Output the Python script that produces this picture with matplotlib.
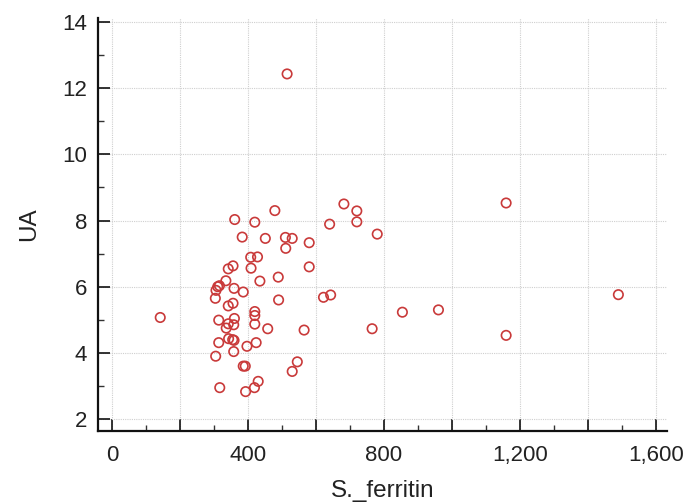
import matplotlib
matplotlib.use('Agg')
import matplotlib.pyplot as plt
from matplotlib.ticker import MultipleLocator, FuncFormatter

plt.rcParams['font.family'] = ['Liberation Sans', 'DejaVu Sans']

# Data
ferritin = [142, 361, 420, 479, 383, 451, 510, 530, 580, 511,
            408, 428, 580, 342, 356, 409, 335, 435, 489, 311,
            316, 306, 359, 386, 304, 342, 356, 490, 622, 643,
            420, 420, 314, 360, 342, 358, 336, 420, 458, 565,
            343, 355, 359, 314, 424, 397, 358, 305, 386, 392,
            545, 530, 317, 430, 419, 393, 515, 682, 720, 720,
            640, 780, 854, 960, 765, 1159, 1489, 1159]
ua = [5.07, 8.03, 7.95, 8.30, 7.50, 7.46, 7.49, 7.46, 7.33, 7.16,
      6.89, 6.90, 6.60, 6.54, 6.63, 6.56, 6.18, 6.17, 6.29, 6.00,
      6.03, 5.89, 5.95, 5.84, 5.65, 5.42, 5.50, 5.60, 5.68, 5.75,
      5.25, 5.13, 4.99, 5.04, 4.88, 4.85, 4.75, 4.87, 4.73, 4.69,
      4.43, 4.40, 4.38, 4.31, 4.31, 4.20, 4.04, 3.90, 3.60, 3.60,
      3.73, 3.44, 2.95, 3.14, 2.95, 2.83, 12.43, 8.50, 8.29, 7.96,
      7.89, 7.59, 5.23, 5.30, 4.73, 8.53, 5.76, 4.53]

x_label = 'S._ferritin'
y_label = 'UA'

fig = plt.figure(figsize=(6.86, 5.03), dpi=100)
ax = fig.add_axes([98/686, 1 - 431/503, (667 - 98)/686, (431 - 18)/503])

ax.scatter(ferritin, ua, s=46, facecolors='none', edgecolors='#c93a3a',
           linewidths=1.2, zorder=3)

ax.set_xlim(-41, 1632)
ax.set_ylim(1.64, 14.12)

ax.xaxis.set_major_locator(MultipleLocator(200))
ax.xaxis.set_minor_locator(MultipleLocator(100))
ax.yaxis.set_major_locator(MultipleLocator(2))
ax.yaxis.set_minor_locator(MultipleLocator(1))

def xfmt(v, pos):
    iv = int(round(v))
    if iv % 400 == 0:
        return f'{iv:,}'
    return ''
ax.xaxis.set_major_formatter(FuncFormatter(xfmt))
ax.yaxis.set_major_formatter(FuncFormatter(lambda v, p: f'{int(round(v))}'))

ax.grid(True, which='major', color='#cfcfcf', linestyle=(0, (1, 1)), linewidth=0.8, zorder=0)
ax.set_axisbelow(True)

for side in ['top', 'right']:
    ax.spines[side].set_visible(False)
for side in ['left', 'bottom']:
    ax.spines[side].set_linewidth(1.6)
    ax.spines[side].set_color('#111111')

ax.tick_params(which='major', direction='in', length=8.5, width=1.2, color='#111111',
               labelsize=16, labelcolor='#222222')
ax.tick_params(axis='x', which='major', pad=10)
ax.tick_params(axis='y', which='major', pad=8)
ax.tick_params(which='minor', direction='in', length=4.5, width=1.0, color='#333333')

ax.set_xlabel(x_label, fontsize=17.5, color='#222222', labelpad=10)
ax.set_ylabel(y_label, fontsize=17.5, color='#222222', labelpad=16)

fig.savefig('out.png', dpi=100)
